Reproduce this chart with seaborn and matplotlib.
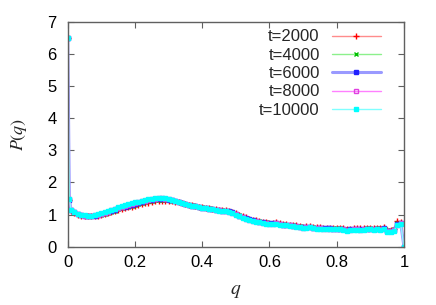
import numpy as np
import pandas as pd
import seaborn as sns
import matplotlib
matplotlib.use("Agg")
from matplotlib import pyplot as plt

# q grid: first bin at 0.005, then every 0.01
q = [0.0, 0.005] + [round(0.01 * i, 2) for i in range(1, 101)]

p_2000 = [6.50, 1.45,
          1.12, 1.05, 1.00, 0.97, 0.95, 0.94, 0.94, 0.95, 0.97, 0.99,
          1.01, 1.04, 1.07, 1.10, 1.13, 1.16, 1.19, 1.22, 1.25, 1.27,
          1.30, 1.32, 1.35, 1.37, 1.39, 1.41, 1.42, 1.43, 1.43, 1.43,
          1.42, 1.40, 1.38, 1.35, 1.33, 1.31, 1.29, 1.27, 1.25, 1.23,
          1.21, 1.20, 1.18, 1.16, 1.15, 1.14, 1.13, 1.12, 1.09, 1.05,
          1.00, 0.95, 0.91, 0.87, 0.84, 0.82, 0.80, 0.78, 0.77, 0.75,
          0.75, 0.76, 0.73, 0.71, 0.70, 0.69, 0.67, 0.66, 0.64, 0.62,
          0.63, 0.63, 0.61, 0.60, 0.60, 0.59, 0.59, 0.59, 0.58, 0.58,
          0.58, 0.57, 0.55, 0.56, 0.57, 0.57, 0.57, 0.57, 0.58, 0.58,
          0.57, 0.58, 0.58, 0.60, 0.53, 0.52, 0.55, 0.80, 0.76, 0.00]

p_4000 = [6.50, 1.46,
          1.13, 1.06, 1.01, 0.98, 0.96, 0.95, 0.95, 0.96, 0.98, 1.00,
          1.03, 1.06, 1.09, 1.12, 1.16, 1.19, 1.22, 1.25, 1.28, 1.31,
          1.33, 1.36, 1.38, 1.41, 1.43, 1.45, 1.46, 1.46, 1.46, 1.45,
          1.43, 1.41, 1.38, 1.35, 1.33, 1.31, 1.29, 1.26, 1.24, 1.22,
          1.20, 1.19, 1.17, 1.15, 1.14, 1.13, 1.12, 1.11, 1.08, 1.03,
          0.98, 0.93, 0.89, 0.86, 0.83, 0.81, 0.79, 0.77, 0.76, 0.74,
          0.74, 0.75, 0.72, 0.70, 0.69, 0.68, 0.66, 0.65, 0.63, 0.61,
          0.62, 0.62, 0.60, 0.59, 0.59, 0.58, 0.58, 0.58, 0.57, 0.57,
          0.57, 0.56, 0.54, 0.55, 0.56, 0.56, 0.56, 0.56, 0.57, 0.57,
          0.56, 0.57, 0.57, 0.59, 0.52, 0.51, 0.54, 0.74, 0.75, 0.00]

p_6000 = [6.50, 1.46,
          1.14, 1.07, 1.02, 0.99, 0.97, 0.96, 0.96, 0.97, 0.99, 1.02,
          1.05, 1.08, 1.11, 1.15, 1.19, 1.22, 1.25, 1.28, 1.31, 1.34,
          1.36, 1.39, 1.41, 1.44, 1.46, 1.47, 1.48, 1.48, 1.48, 1.46,
          1.44, 1.41, 1.38, 1.35, 1.33, 1.30, 1.28, 1.26, 1.24, 1.21,
          1.19, 1.18, 1.16, 1.15, 1.13, 1.12, 1.11, 1.10, 1.07, 1.02,
          0.97, 0.92, 0.88, 0.85, 0.82, 0.80, 0.78, 0.76, 0.74, 0.73,
          0.73, 0.74, 0.71, 0.69, 0.68, 0.67, 0.65, 0.64, 0.62, 0.60,
          0.61, 0.61, 0.59, 0.58, 0.58, 0.57, 0.57, 0.57, 0.56, 0.56,
          0.56, 0.55, 0.52, 0.54, 0.55, 0.55, 0.54, 0.55, 0.56, 0.56,
          0.55, 0.56, 0.55, 0.57, 0.50, 0.49, 0.52, 0.70, 0.74, 0.00]

p_8000 = [6.50, 1.47,
          1.15, 1.08, 1.02, 0.99, 0.97, 0.96, 0.96, 0.98, 1.00, 1.03,
          1.06, 1.09, 1.13, 1.17, 1.21, 1.24, 1.27, 1.30, 1.33, 1.36,
          1.38, 1.41, 1.43, 1.46, 1.48, 1.49, 1.50, 1.50, 1.49, 1.47,
          1.45, 1.42, 1.39, 1.36, 1.33, 1.31, 1.28, 1.26, 1.24, 1.21,
          1.19, 1.18, 1.16, 1.14, 1.13, 1.12, 1.10, 1.09, 1.06, 1.01,
          0.96, 0.91, 0.87, 0.84, 0.81, 0.79, 0.77, 0.75, 0.73, 0.72,
          0.72, 0.73, 0.70, 0.68, 0.67, 0.66, 0.64, 0.63, 0.61, 0.59,
          0.60, 0.61, 0.58, 0.57, 0.57, 0.56, 0.56, 0.56, 0.55, 0.55,
          0.55, 0.54, 0.51, 0.53, 0.54, 0.54, 0.53, 0.54, 0.55, 0.55,
          0.54, 0.55, 0.54, 0.56, 0.48, 0.48, 0.51, 0.68, 0.73, 0.00]

p_10000 = [6.50, 1.47,
           1.15, 1.08, 1.03, 1.00, 0.98, 0.97, 0.97, 0.99, 1.01, 1.04,
           1.07, 1.10, 1.14, 1.18, 1.22, 1.26, 1.29, 1.32, 1.35, 1.38,
           1.40, 1.42, 1.45, 1.47, 1.49, 1.51, 1.51, 1.51, 1.50, 1.48,
           1.45, 1.42, 1.39, 1.36, 1.33, 1.31, 1.28, 1.26, 1.24, 1.21,
           1.19, 1.18, 1.16, 1.14, 1.12, 1.11, 1.10, 1.08, 1.05, 1.00,
           0.95, 0.90, 0.86, 0.83, 0.80, 0.78, 0.76, 0.74, 0.72, 0.71,
           0.71, 0.72, 0.69, 0.67, 0.66, 0.65, 0.63, 0.62, 0.60, 0.58,
           0.59, 0.60, 0.57, 0.56, 0.56, 0.55, 0.55, 0.55, 0.54, 0.54,
           0.54, 0.53, 0.50, 0.52, 0.53, 0.53, 0.52, 0.53, 0.54, 0.54,
           0.53, 0.54, 0.53, 0.55, 0.47, 0.47, 0.50, 0.66, 0.72, 0.00]

labels = ['t=2000', 't=4000', 't=6000', 't=8000', 't=10000']
series = [p_2000, p_4000, p_6000, p_8000, p_10000]

# gnuplot-like styling: light line, saturated point
styles = [
    dict(color='#ff8c8c', marker='+', mec='#ff0000', mfc='#ff0000', ms=4, lw=1.0),
    dict(color='#8cf08c', marker='x', mec='#00c000', mfc='#00c000', ms=3.5, lw=1.0),
    dict(color='#9a9aff', marker='s', mec='#2020ff', mfc='#2020ff', ms=2.2, lw=2.2),
    dict(color='#ff80ff', marker='s', mec='#e040e0', mfc='none', ms=3.5, lw=1.0),
    dict(color='#80ffff', marker='s', mec='#00ffff', mfc='#00ffff', ms=3.3, lw=1.0),
]

sns.set_style('ticks')
plt.rcParams['font.family'] = ['Liberation Sans', 'DejaVu Sans']
plt.rcParams['mathtext.fontset'] = 'stix'

fig = plt.figure(figsize=(4.36, 3.05), dpi=100)
ax = fig.add_axes([0.1553, 0.1911, 0.7713, 0.7378])

for lab, ys, st in zip(labels, series, styles):
    df = pd.DataFrame({'q': q, 'P': ys})
    sns.lineplot(data=df, x='q', y='P', ax=ax, markeredgewidth=1.0,
                 color=st['color'], marker=st['marker'], markeredgecolor=st['mec'],
                 markerfacecolor=st['mfc'], markersize=st['ms'], linewidth=st['lw'])

ax.set_xlim(0, 1)
ax.set_ylim(0, 7)
ax.set_xticks([0, 0.2, 0.4, 0.6, 0.8, 1])
ax.set_xticklabels(['0', '0.2', '0.4', '0.6', '0.8', '1'])
ax.set_yticks(range(0, 8))
ax.tick_params(direction='in', length=4, width=0.8, color='#606060',
               top=True, right=True, labelsize=12, colors='black')
ax.tick_params(axis='x', pad=6)
ax.tick_params(axis='y', pad=8)
for s in ax.spines.values():
    s.set_color('#606060')
    s.set_linewidth(1.0)

ax.set_xlabel('$q$', fontsize=14, labelpad=9)
ax.set_ylabel('$P(q)$', fontsize=13, labelpad=13)

# markerfirst=False right-aligns the labels against the samples, like gnuplot
ax.legend(handles=ax.lines[:5], labels=labels, loc='upper right',
          frameon=False, markerfirst=False, numpoints=1,
          fontsize=12, handlelength=2.9, handletextpad=0.75,
          labelspacing=0.2, borderaxespad=0.2, bbox_to_anchor=(0.96, 1.01))

fig.savefig('out.png', dpi=100)
